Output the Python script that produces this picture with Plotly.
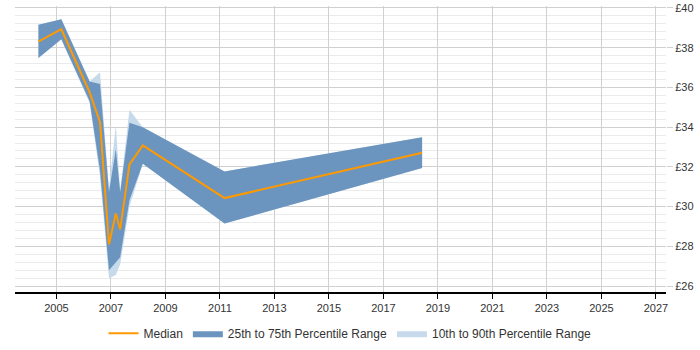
import plotly.graph_objects as go

# Data
years = [2004.34, 2005.18, 2006.22, 2006.6, 2006.93, 2007.18, 2007.34, 2007.68, 2008.17, 2011.17, 2018.42]
median = [38.31, 38.93, 35.75, 34.25, 28.10, 29.65, 28.85, 32.12, 33.08, 30.43, 32.71]
p25 = [37.48, 38.43, 35.30, 31.80, 26.80, 27.22, 27.45, 30.32, 32.16, 29.15, 31.94]
p75 = [39.15, 39.43, 36.30, 36.17, 30.73, 32.90, 30.73, 34.22, 34.00, 31.77, 33.49]
p10 = [37.48, 38.43, 35.20, 31.50, 26.39, 26.55, 27.10, 30.00, 32.16, 29.15, 31.94]
p90 = [39.15, 39.43, 36.30, 36.76, 30.90, 34.10, 30.80, 34.87, 34.00, 31.77, 33.49]

x_ticks = list(range(2005, 2028, 2))
y_ticks = list(range(26, 41, 2))
y_labels = ["£%d" % v for v in y_ticks]

LIGHT = "rgba(198,218,236,1)"
DARK = "rgba(107,149,190,1)"
ORANGE = "#ff9900"

fig = go.Figure()
fig.add_trace(go.Scatter(x=years, y=p90, mode="lines", line=dict(width=0, color=LIGHT),
                         showlegend=False, hoverinfo="skip"))
fig.add_trace(go.Scatter(x=years, y=p10, mode="lines", line=dict(width=0, color=LIGHT),
                         fill="tonexty", fillcolor=LIGHT, name="10th to 90th Percentile Range",
                         legendrank=3))
fig.add_trace(go.Scatter(x=years, y=p75, mode="lines", line=dict(width=0, color=DARK),
                         showlegend=False, hoverinfo="skip"))
fig.add_trace(go.Scatter(x=years, y=p25, mode="lines", line=dict(width=0, color=DARK),
                         fill="tonexty", fillcolor=DARK, name="25th to 75th Percentile Range",
                         legendrank=2))
fig.add_trace(go.Scatter(x=years, y=median, mode="lines", line=dict(width=2, color=ORANGE),
                         name="Median", legendrank=1))

fig.update_layout(
    width=700, height=350,
    margin=dict(l=15, r=34, t=6, b=58, autoexpand=False),
    paper_bgcolor="white", plot_bgcolor="white",
    font=dict(family="Liberation Sans, Arial, sans-serif", size=12, color="#333"),
    showlegend=True,
    legend=dict(orientation="h", x=0.5, xanchor="center", xref="container",
                y=0.048, yanchor="middle", yref="container",
                font=dict(size=12, color="#333"), itemwidth=30, traceorder="normal"),
    xaxis=dict(range=[2003.48, 2027.37], tickvals=x_ticks, ticktext=[str(v) for v in x_ticks],
               showgrid=True, gridcolor="#d0d0d0", gridwidth=1,
               showline=True, linecolor="black", linewidth=1.5,
               ticks="outside", ticklen=5, tickcolor="black",
               tickfont=dict(size=11, color="#333"), zeroline=False, fixedrange=True),
    yaxis=dict(range=[25.7, 40.1], side="right", tickvals=y_ticks, ticktext=y_labels,
               showgrid=True, gridcolor="#d0d0d0", gridwidth=1,
               minor=dict(dtick=0.4, tick0=26, showgrid=True, gridcolor="#ebebeb", gridwidth=1),
               ticks="outside", ticklen=6, tickcolor="#d0d0d0",
               showline=False, zeroline=False,
               tickfont=dict(size=11, color="#333"), fixedrange=True),
)

fig.write_html("out.html")
